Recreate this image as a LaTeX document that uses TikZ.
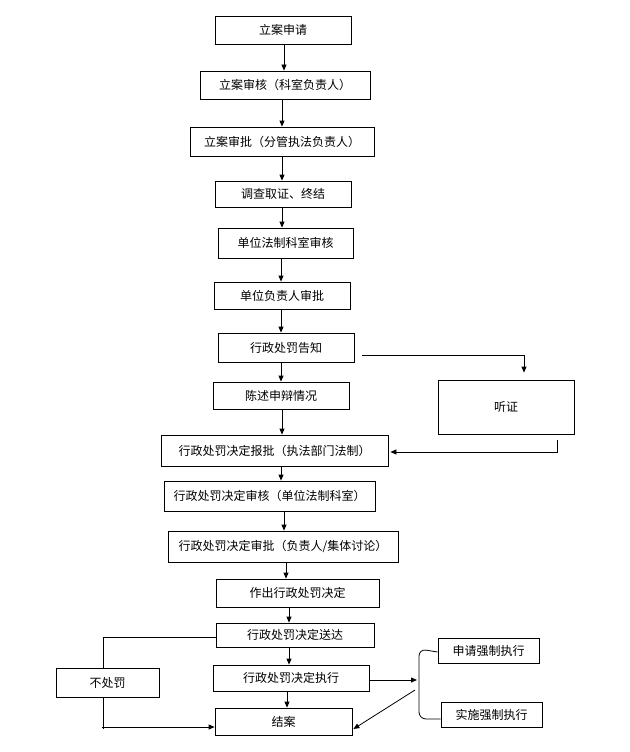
\documentclass[tikz,border=0pt]{standalone}
\usepackage{fontspec}
\setmainfont{Noto Sans CJK SC}
\usetikzlibrary{arrows.meta,calc}
\begin{document}
\begin{tikzpicture}[x=1pt,y=1pt,
  box/.style={draw, line width=0.8pt, inner sep=0pt, font=\fontsize{12}{14}\selectfont},
  arr/.style={line width=0.8pt, -{Triangle[length=6pt,width=5pt]}},
  ln/.style={line width=0.8pt}]
\useasboundingbox (0,0) rectangle (629,-752);
\node[box, minimum width=136pt, minimum height=28pt] (n1) at (283,-30) {立案申请};
\node[box, minimum width=170pt, minimum height=28pt] (n2) at (285,-85) {立案审核（科室负责人）};
\node[box, minimum width=184pt, minimum height=29pt] (n3) at (282,-141.5) {立案审批（分管执法负责人）};
\node[box, minimum width=136pt, minimum height=26pt] (n4) at (283,-194) {调查取证、终结};
\node[box, minimum width=135pt, minimum height=30pt] (n5) at (285.5,-243) {单位法制科室审核};
\node[box, minimum width=136pt, minimum height=27pt] (n6) at (282,-295.5) {单位负责人审批};
\node[box, minimum width=136pt, minimum height=29pt] (n7) at (286,-347.5) {行政处罚告知};
\node[box, minimum width=136pt, minimum height=27pt] (n8) at (281,-395.5) {陈述申辩情况};
\node[box, minimum width=136pt, minimum height=54pt] (n9) at (506,-407) {听证};
\node[box, minimum width=227pt, minimum height=31pt] (n10) at (274.5,-450.5) {行政处罚决定报批（执法部门法制）};
\node[box, minimum width=211pt, minimum height=30pt] (n11) at (269.5,-496) {行政处罚决定审核（单位法制科室）};
\node[box, minimum width=230pt, minimum height=31pt] (n12) at (283,-546.5) {行政处罚决定审批（负责人/集体讨论）};
\node[box, minimum width=163pt, minimum height=28pt] (n13) at (297.5,-593) {作出行政处罚决定};
\node[box, minimum width=158pt, minimum height=24pt] (n14) at (295,-635) {行政处罚决定送达};
\node[box, minimum width=103pt, minimum height=29pt] (n15) at (107.5,-682.5) {不处罚};
\node[box, minimum width=156pt, minimum height=26pt] (n16) at (291,-678) {行政处罚决定执行};
\node[box, minimum width=137pt, minimum height=27pt] (n17) at (283.5,-721.5) {结案};
\node[box, minimum width=101pt, minimum height=25pt] (n18) at (488.5,-650.5) {申请强制执行};
\node[box, minimum width=101pt, minimum height=25pt] (n19) at (491.5,-714.5) {实施强制执行};
% main vertical arrows
\draw[arr] (n1.south -| 284,0) -- (n2.north -| 284,0);
\draw[arr] (n2.south -| 282,0) -- (n3.north -| 282,0);
\draw[arr] (n3.south -| 282,0) -- (n4.north -| 282,0);
\draw[arr] (n4.south -| 282,0) -- (n5.north -| 282,0);
\draw[arr] (n5.south -| 281,0) -- (n6.north -| 281,0);
\draw[arr] (n6.south -| 281,0) -- (n7.north -| 281,0);
\draw[arr] (n7.south -| 281,0) -- (n8.north -| 281,0);
\draw[arr] (n8.south -| 282,0) -- (n10.north -| 282,0);
\draw[arr] (n10.south -| 281,0) -- (n11.north -| 281,0);
\draw[arr] (n11.south -| 284,0) -- (n12.north -| 284,0);
\draw[arr] (n12.south -| 286,0) -- (n13.north -| 286,0);
\draw[arr] (n13.south -| 289,0) -- (n14.north -| 289,0);
\draw[arr] (n14.south -| 289,0) -- (n16.north -| 289,0);
\draw[arr] (n16.south -| 287,0) -- (n17.north -| 287,0);
% hearing branch
\draw[arr] ($(n7.east)+(8,-7.5)$) -| ($(n9.north)+(18,7)$);
\draw[arr] ($(n9.south)+(51,-6)$) |- ($(n10.east)+(2,-1.5)$);
% no punishment branch
\draw[ln] ($(n14.west)+(0,-2)$) -| ($(n15.north)+(-4.5,0)$);
\draw[ln] ($(n15.south)+(-4.5,0)$) -- ++(0,-32);
\coordinate (nl) at ($(n17.west)+(-113,-5.5)$);
\draw[arr] (nl) -- ($(n17.west)+(0,-5.5)$);
% enforcement bracket
\coordinate (bm) at (417,-680);
\draw[arr] ($(n16.east)+(0,-2)$) -- (bm);
\draw[ln, rounded corners=7pt] ($(n18.west)+(0,-1.5)$) -- (419,-649) -- (419,-719) -- ($(n19.west)+(0,-4.5)$);
\coordinate (bd) at (415,-690);
\draw[arr] (bd) -- ($(n17.east)+(1,-7.5)$);
\end{tikzpicture}
\end{document}
